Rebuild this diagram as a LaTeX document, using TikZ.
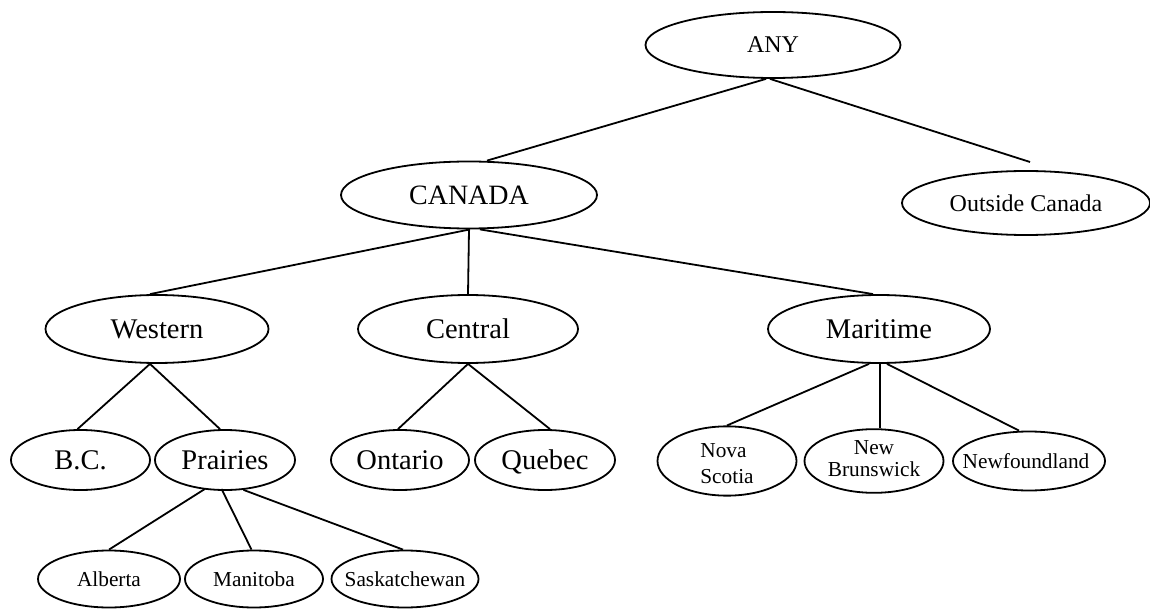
\documentclass[tikz,border=0pt]{standalone}
\usepackage{fontspec}
\setmainfont{Liberation Serif}
\usetikzlibrary{shapes.geometric}
\newcommand\narrowlabel[1]{\makebox[0pt]{#1}}
\tikzset{
  region/.style={draw, ellipse, line width=1.8pt, inner sep=0pt,
    minimum width=#1, minimum height=68pt,
    font=\fontsize{28.5}{30}\selectfont},
  top/.style={draw, ellipse, line width=1.8pt, inner sep=0pt,
    minimum width=#1, minimum height=66pt,
    font=\fontsize{24}{26}\selectfont},
  leaf/.style={draw, ellipse, line width=1.8pt, inner sep=0pt,
    minimum width=#1, minimum height=60pt,
    font=\fontsize{28.5}{30}\selectfont},
  small/.style={draw, ellipse, line width=1.8pt, inner sep=0pt,
    minimum width=#1, minimum height=59pt,
    font=\fontsize{21.3}{23}\selectfont},
  link/.style={line width=1.8pt}
}
\begin{document}
\begin{tikzpicture}[x=1pt, y=-1pt]
\useasboundingbox (0,0) rectangle (1150,609);

% root and first level
\node[top=255pt] (any) at (773,45) {ANY};
\node[region=256pt, minimum height=67pt, font=\fontsize{28}{30}\selectfont] (canada) at (469,195) {CANADA};
\node[top=248pt, minimum height=64pt] (outside) at (1026,203) {Outside Canada};
\coordinate (outsidetip) at (1030,162);

% regions
\node[region=223pt] (western) at (157,329) {Western};
\node[region=220pt] (central) at (468,329) {Central};
\node[region=222pt] (maritime) at (879,329) {Maritime};

% provinces
\node[leaf=139pt] (bc) at (80.5,460) {B.C.};
\node[leaf=140pt] (prairies) at (225,460) {Prairies};
\node[leaf=138pt] (ontario) at (400,460) {Ontario};
\node[leaf=140pt, text depth=0pt] (quebec) at (545,460) {Quebec};
\node[small=139pt] (nova) at (727,461)
  {\raisebox{-5pt}[\height][\depth]{\begin{tabular}{@{}l@{}}Nova\\[3pt]Scotia\end{tabular}}};
\node[small=139pt] (newb) at (874,461)
  {\begin{tabular}{@{}c@{}}New\\[-1pt]Brunswick\end{tabular}};
\node[small=152pt] (newf) at (1029,461) {\narrowlabel{\hspace*{-6pt}Newfoundland}};

% prairie provinces
\node[small=142pt, minimum height=57pt] (alberta) at (109,579) {Alberta};
\node[small=138pt, minimum height=57pt] (manitoba) at (254,579) {Manitoba};
\node[small=147pt, minimum height=57pt] (sask) at (405,579) {\narrowlabel{Saskatchewan}};

% connectors
\draw[link] ([xshift=-7pt]any.south) -- ([xshift=18pt]canada.north);
\draw[link] ([xshift=-3pt]any.south) -- (outsidetip);

\draw[link] ([xshift=1pt]canada.south) -- ([xshift=-7pt]western.north);
\draw[link] (canada.south) -- (central.north);
\draw[link] ([xshift=11pt]canada.south) -- ([xshift=-6pt]maritime.north);

\draw[link] ([xshift=-7pt]western.south) -- ([xshift=-3pt]bc.north);
\draw[link] ([xshift=-7pt]western.south) -- ([xshift=-5pt]prairies.north);

\draw[link] (central.south) -- ([xshift=-2pt]ontario.north);
\draw[link] (central.south) -- ([xshift=5pt]quebec.north);

\draw[link] ([xshift=-10pt]maritime.south) -- (nova.north);
\draw[link] ([xshift=1pt]maritime.south) -- ([xshift=6pt]newb.north);
\draw[link] ([xshift=8pt]maritime.south) -- ([xshift=-10pt]newf.north);

\draw[link] ([xshift=-20pt,yshift=2pt]prairies.south) -- (alberta.north);
\draw[link] ([xshift=-3.5pt,yshift=2pt]prairies.south) -- ([xshift=-2.5pt]manitoba.north);
\draw[link] ([xshift=18.5pt,yshift=1pt]prairies.south) -- ([xshift=-2pt]sask.north);
\end{tikzpicture}
\end{document}
